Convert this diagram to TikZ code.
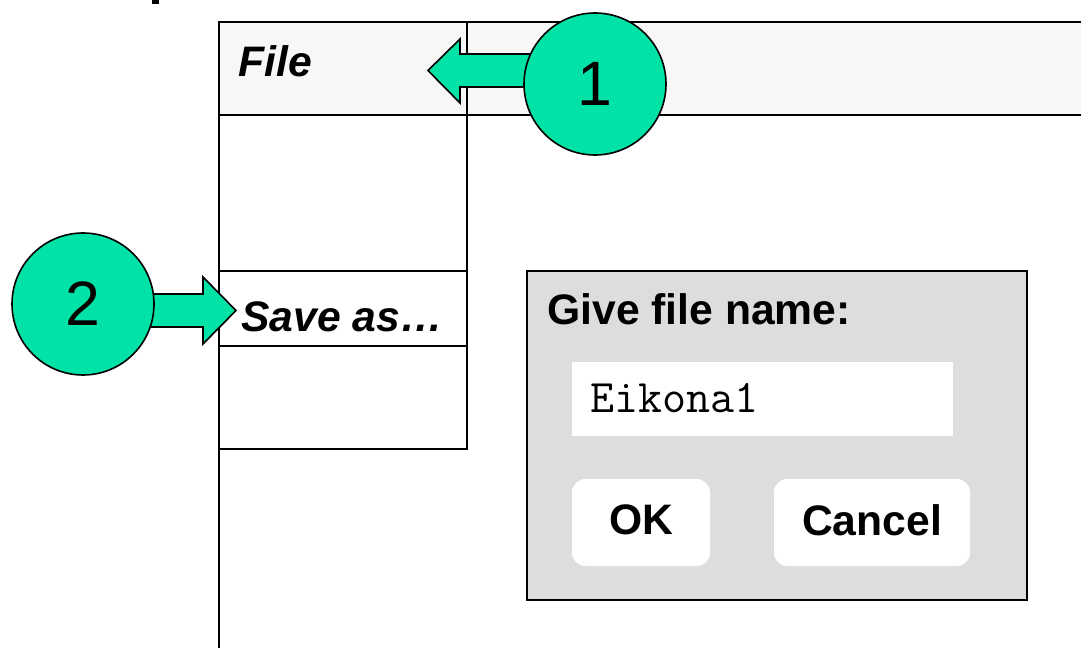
\documentclass[tikz,border=0pt]{standalone}
\usepackage{fontspec}
\setmainfont{Liberation Sans}
\definecolor{mint}{RGB}{0,226,166}
\definecolor{menugray}{RGB}{247,247,247}
\definecolor{dlggray}{RGB}{221,221,221}
\begin{document}
\begin{tikzpicture}[x=0.75pt,y=-0.75pt,
  frame/.style={line width=1.7pt,draw=black},
  menutext/.style={font=\fontsize{32}{36}\selectfont\bfseries\itshape,anchor=west,inner sep=0pt},
  dlgtext/.style={font=\fontsize{32}{36}\selectfont\bfseries,inner sep=0pt},
  btn/.style={fill=white,rounded corners=10pt,draw=none},
  badge/.style={circle,fill=mint,draw=black,line width=1.2pt,minimum size=142*0.75pt,inner sep=0pt,font=\fontsize{47}{50}\selectfont},
  arrowshape/.style={fill=mint,draw=black,line width=1.2pt,line join=miter}]
\useasboundingbox (0,0) rectangle (1081,648);
% cropped mark at the top
\fill[black] (152,0) rectangle (159,4);
% window
\fill[menugray] (219,22) rectangle (1081,115);
\draw[frame] (1081,22) -- (219,22) -- (219,648);
\draw[frame] (219,115) -- (1081,115);
\draw[frame] (467,22) -- (467,449) -- (219,449);
\draw[frame] (219,271) -- (467,271);
\draw[frame] (219,346) -- (467,346);
\node[menutext] (file) at (238,61) {File};
\node[menutext] (saveas) at (241,317) {Save as\ldots};
% dialog
\draw[fill=dlggray,draw=black,line width=1.4pt] (527,271) rectangle (1027,600);
\node[dlgtext,anchor=west] (give) at (547,309) {Give file name:};
\fill[white] (572,362) rectangle (953,436);
\node[anchor=west,inner sep=0pt,font=\fontsize{35}{38}\selectfont\ttfamily] (name) at (590,398) {Eikona1};
\draw[btn] (572,479) rectangle (710,566);
\draw[btn] (774,479) rectangle (970,566);
\node[dlgtext] (ok) at (641,520) {OK};
\node[dlgtext] (cancel) at (872,520) {Cancel};
% arrows
\draw[arrowshape] (560,54) -- (460,54) -- (460,39) -- (428,70.5) -- (460,103) -- (460,87) -- (560,87) -- cycle;
\draw[arrowshape] (120,294) -- (203,294) -- (203,277) -- (236,310.5) -- (203,344) -- (203,327) -- (120,327) -- cycle;
% badges
\node[badge] (b1) at (595,84) {1};
\node[badge] (b2) at (83,304) {2};
\end{tikzpicture}
\end{document}
